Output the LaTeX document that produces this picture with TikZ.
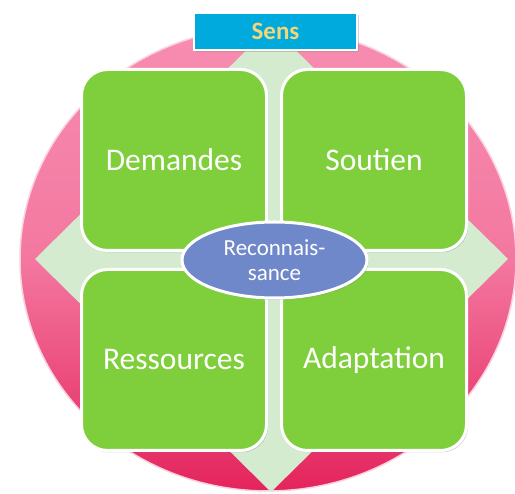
\documentclass[tikz,border=0pt]{standalone}
\usepackage{fontspec}
\setmainfont{Carlito}
\usetikzlibrary{positioning,shapes.geometric,shadows}

\definecolor{rosetop}{HTML}{F78DB1}
\definecolor{rosebot}{HTML}{E4245C}
\definecolor{mint}{HTML}{D5EBD0}
\definecolor{leafgreen}{HTML}{7ECF3B}
\definecolor{skyblue}{HTML}{00AADC}
\definecolor{sandyellow}{HTML}{F4D67A}
\definecolor{slateblue}{HTML}{6F88C9}

\begin{document}
\begin{tikzpicture}[x=1pt,y=-1pt,node distance=200pt,on grid,
    tile/.style={draw=white,line width=3pt,fill=leafgreen,rounded corners=26pt,
      minimum width=185pt,minimum height=181pt,text=white,
      font=\fontsize{31.5}{36}\selectfont,
      drop shadow={opacity=0.3,shadow xshift=1.5pt,shadow yshift=-2pt}}]
  \useasboundingbox (0,0) rectangle (515,494);
  \fill[white] (0,0) rectangle (515,494);

  % background disc and cross
  \shade[top color=rosetop,bottom color=rosebot,middle color=rosetop!80!rosebot,
         draw=rosetop!40,line width=1.5pt] (268,259) ellipse [x radius=248, y radius=232];
  \fill[mint] (271,26) -- (508,259) -- (271,492) -- (35,259) -- cycle;

  % four tiles
  \node[tile] (demandes) at (174,160) {Demandes};
  \node[tile] (soutien) [right of=demandes] {Soutien};
  \node[tile] (ressources) [below of=demandes] {Ressources};
  \node[tile] (adaptation) [right of=ressources] {Adaptation};

  \node[draw=white,line width=2pt,fill=skyblue,minimum width=163pt,minimum height=37pt,
        text=sandyellow,font=\bfseries\fontsize{25}{30}\selectfont,
        drop shadow={opacity=0.35,shadow xshift=2pt,shadow yshift=-2pt}] (sens) at (275.5,31.5) {Sens};

  \node[ellipse,draw=white,line width=3pt,fill=slateblue,minimum width=185pt,minimum height=76pt,
        align=center,text=white,font=\fontsize{23}{25}\selectfont,
        drop shadow={opacity=0.3,shadow xshift=1.5pt,shadow yshift=-2pt}] (reco) at (274.5,260) {Reconnais-\\sance};
\end{tikzpicture}
\end{document}
